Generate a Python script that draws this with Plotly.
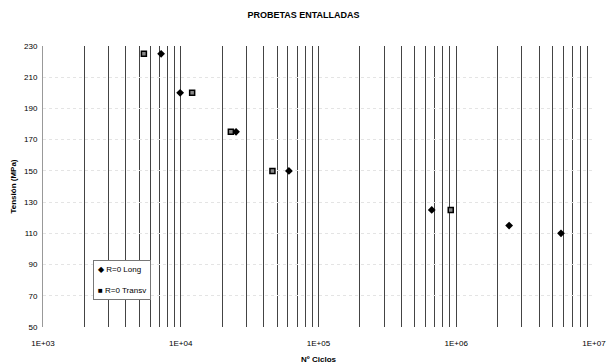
import plotly.graph_objects as go

long_cycles = [7200, 9900, 25200, 61000, 664000, 2420000, 5760000]
long_stress = [225, 200, 175, 150, 125, 115, 110]
transv_cycles = [5400, 12100, 23100, 46300, 912000]
transv_stress = [225, 200, 175, 150, 125]
series_names = ["R=0 Long", "R=0 Transv"]

y_ticks = [50, 70, 90, 110, 130, 150, 170, 190, 210, 230]
decades = [1e3, 1e4, 1e5, 1e6, 1e7]
decade_labels = ["1E+03", "1E+04", "1E+05", "1E+06", "1E+07"]

xt, xl = [], []
for d, lab in zip(decades[:-1], decade_labels[:-1]):
    for m in range(1, 10):
        xt.append(d * m)
        xl.append(lab if m == 1 else "")
xt.append(decades[-1]); xl.append(decade_labels[-1])

font = "Liberation Sans, Arial, sans-serif"

fig = go.Figure()
fig.add_trace(go.Scatter(x=long_cycles, y=long_stress, mode="markers", name=series_names[0],
                         marker=dict(symbol="diamond", size=6, color="black")))
fig.add_trace(go.Scatter(x=transv_cycles, y=transv_stress, mode="markers", name=series_names[1],
                         marker=dict(symbol="square", size=5, color="#888", line=dict(color="black", width=1.5))))

# compact legend box like the original
fig.add_annotation(xref="paper", yref="paper", x=0.09, y=0.238, xanchor="left", yanchor="top",
                   text="◆ " + series_names[0] + "<br> <br>■ " + series_names[1],
                   showarrow=False, align="left", font=dict(size=8, family=font, color="black"),
                   bgcolor="white", bordercolor="#777", borderwidth=1, borderpad=4)

fig.update_layout(
    width=607, height=364,
    margin=dict(l=43, r=13, t=46, b=37),
    paper_bgcolor="white", plot_bgcolor="white",
    font=dict(family=font, size=8, color="black"),
    title=dict(text="<b>PROBETAS ENTALLADAS</b>", x=0.5, xanchor="center", y=0.96, yanchor="middle",
               font=dict(size=9, family=font)),
    xaxis=dict(type="log", range=[3, 7], tickvals=xt, ticktext=xl, showgrid=True,
               gridcolor="#444", gridwidth=1, ticks="outside", ticklen=8, tickcolor="rgba(0,0,0,0)",
               zeroline=False, showline=False, automargin=False,
               title=dict(text="<b>Nº Ciclos</b>", font=dict(size=8))),
    yaxis=dict(range=[50, 230], tickvals=y_ticks, showgrid=True, gridcolor="#e4e4e4",
               griddash="dot", gridwidth=1, ticks="outside", ticklen=3, tickcolor="rgba(0,0,0,0)",
               zeroline=False, showline=True, linecolor="#999", linewidth=1, automargin=False,
               title=dict(text="<b>Tensión (MPa)</b>", font=dict(size=8), standoff=6)),
    showlegend=False,
)

fig.write_html("out.html", config={"displayModeBar": False},
               post_script="document.body.style.margin='0';document.body.style.overflow='hidden';")
